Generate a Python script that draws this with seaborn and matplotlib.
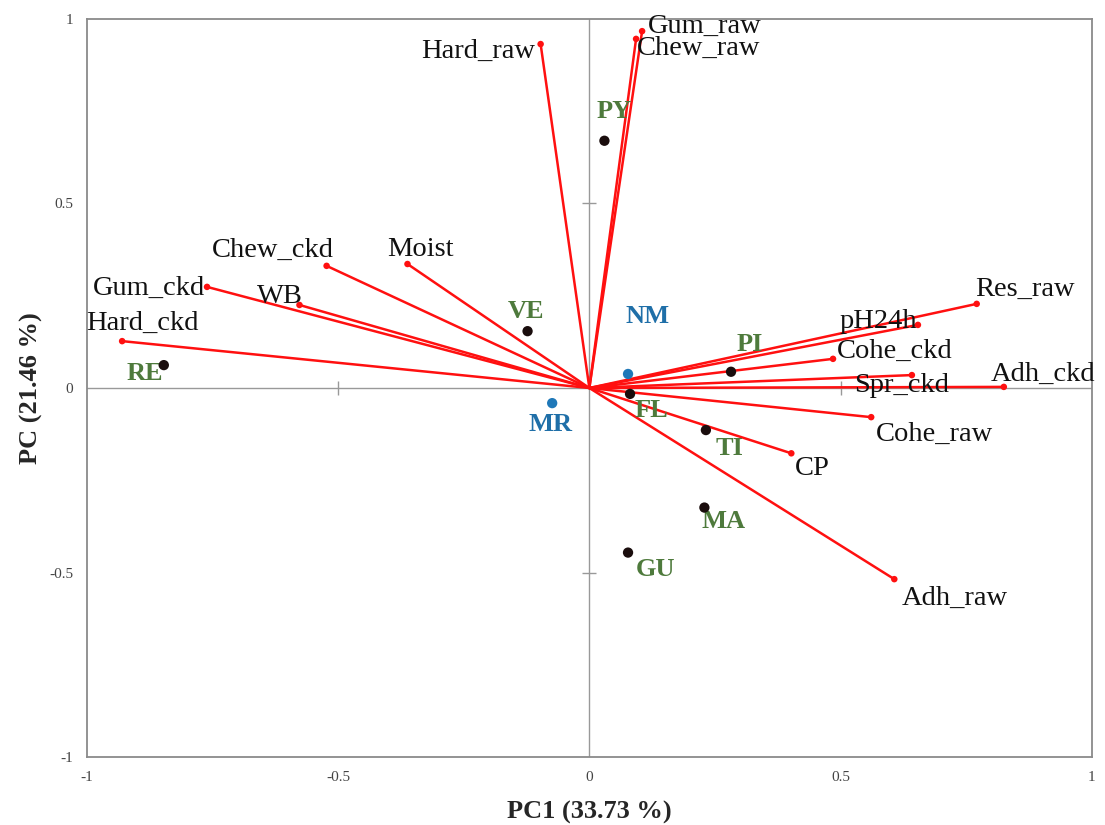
import numpy as np
import pandas as pd
import seaborn as sns
import matplotlib.pyplot as plt

# variable loadings (PC1, PC2)
var_names = ["Hard_raw", "Gum_raw", "Chew_raw", "Chew_ckd", "Moist", "Gum_ckd", "WB",
             "Hard_ckd", "Res_raw", "pH24h", "Cohe_ckd", "Spr_ckd", "Adh_ckd",
             "Cohe_raw", "CP", "Adh_raw"]
var_pc1 = [-0.097, 0.105, 0.093, -0.523, -0.362, -0.761, -0.577, -0.930, 0.771,
           0.654, 0.485, 0.642, 0.825, 0.561, 0.402, 0.607]
var_pc2 = [0.932, 0.967, 0.946, 0.331, 0.336, 0.274, 0.225, 0.127, 0.228,
           0.171, 0.079, 0.035, 0.003, -0.079, -0.177, -0.518]
# where each variable name sits
var_lab_x = [-0.107, 0.117, 0.095, -0.630, -0.336, -0.877, -0.616, -0.889, 0.867,
             0.575, 0.608, 0.622, 0.903, 0.688, 0.443, 0.728]
var_lab_y = [0.911, 0.980, 0.920, 0.374, 0.374, 0.271, 0.247, 0.176, 0.266,
             0.179, 0.098, 0.008, 0.038, -0.125, -0.217, -0.569]
var_lab_ha = ["right", "left", "left"] + ["center"] * 13

# observation scores
obs_names = ["RE", "VE", "PY", "NM", "MR", "PI", "FL", "TI", "MA", "GU"]
obs_pc1 = [-0.847, -0.123, 0.030, 0.077, -0.074, 0.282, 0.081, 0.232, 0.229, 0.077]
obs_pc2 = [0.062, 0.154, 0.670, 0.038, -0.041, 0.044, -0.016, -0.114, -0.324, -0.446]
obs_kind = ["breed", "breed", "breed", "sex", "sex", "breed", "breed", "breed", "breed", "breed"]
obs_lab_x = [-0.885, -0.127, 0.050, 0.115, -0.078, 0.320, 0.123, 0.278, 0.268, 0.131]
obs_lab_y = [0.038, 0.206, 0.748, 0.195, -0.098, 0.119, -0.060, -0.163, -0.363, -0.493]

ticks = [-1, -0.5, 0, 0.5, 1]

sns.set_style("white")
plt.rcParams['font.family'] = ['Liberation Serif', 'DejaVu Serif']

df_var = pd.DataFrame({"name": var_names, "pc1": var_pc1, "pc2": var_pc2})
df_obs = pd.DataFrame({"name": obs_names, "pc1": obs_pc1, "pc2": obs_pc2, "kind": obs_kind})

fig = plt.figure(figsize=(11.05, 8.25), dpi=100)
ax = fig.add_axes([0.0787, 0.0824, 0.9093, 0.8946])

# centre axes with small cross ticks
ax.axhline(0, color="#999999", lw=1.0, zorder=1)
ax.axvline(0, color="#999999", lw=1.0, zorder=1)
inner = [t for t in ticks if t not in (-1, 0, 1)]
ax.plot(inner, [0] * len(inner), ls="none", marker="|", ms=10, mew=1.0, color="#999999", zorder=1)
ax.plot([0] * len(inner), inner, ls="none", marker="_", ms=10, mew=1.0, color="#999999", zorder=1)

# loading vectors
for x, y in zip(df_var.pc1, df_var.pc2):
    ax.plot([0, x], [0, y], color="#ff1010", lw=1.8, zorder=2)
sns.scatterplot(data=df_var, x="pc1", y="pc2", color="#ff1010", s=22, edgecolor="none",
                ax=ax, zorder=3, legend=False)
for name, x, y, ha in zip(var_names, var_lab_x, var_lab_y, var_lab_ha):
    ax.text(x, y, name, ha=ha, va="center", fontsize=20.5, color="#111111",
            family=['Liberation Serif', 'DejaVu Serif'])

# observations
sns.scatterplot(data=df_obs, x="pc1", y="pc2", hue="kind",
                palette={"breed": "#1a0d0d", "sex": "#1f78b8"}, s=55, edgecolor="none",
                ax=ax, zorder=4, legend=False)
lab_col = {"breed": "#4e7a3c", "sex": "#1f6fa8"}
for name, x, y, k in zip(obs_names, obs_lab_x, obs_lab_y, obs_kind):
    ax.text(x, y, name, ha="center", va="center", fontsize=19, fontweight="bold",
            color=lab_col[k], family=['Liberation Serif', 'DejaVu Serif'])

ax.set_xlim(-1, 1)
ax.set_ylim(-1, 1)
ax.set_xticks(ticks)
ax.set_yticks(ticks)
ax.set_xticklabels([f"{t:g}" for t in ticks])
ax.set_yticklabels([f"{t:g}" for t in ticks])
ax.tick_params(length=0, labelsize=11, labelcolor="#444444")
ax.tick_params(axis="x", pad=10)
ax.tick_params(axis="y", pad=10)
for sp in ax.spines.values():
    sp.set_color("#8a8a8a")
    sp.set_linewidth(1.3)

ax.set_xlabel("PC1 (33.73 %)", fontsize=19, fontweight="bold", labelpad=12)
ax.set_ylabel("PC (21.46 %)", fontsize=19, fontweight="bold", labelpad=4)

fig.savefig("out.png", dpi=100)
